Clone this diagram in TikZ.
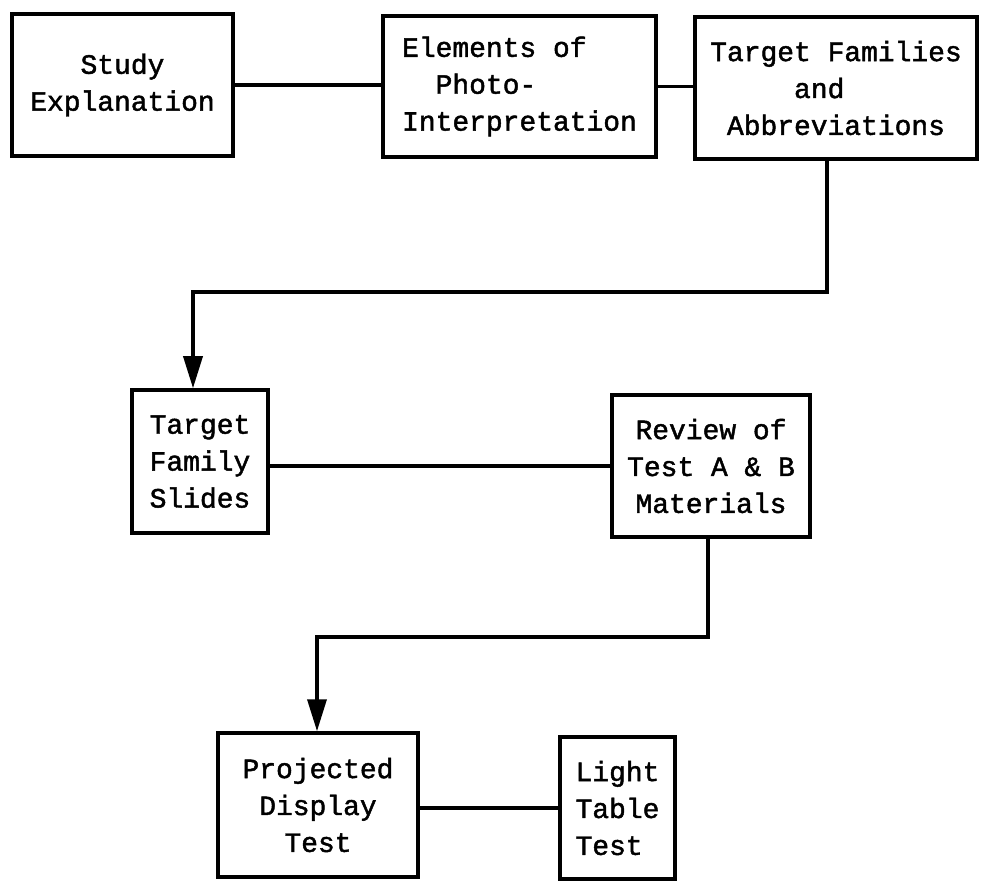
\documentclass[tikz,border=0pt]{standalone}
\usepackage{fontspec}
\setmonofont{Liberation Mono}[BoldFont=Liberation Mono, BoldFeatures={FakeBold=1.6}]
\usepackage{tikz}
\usetikzlibrary{arrows.meta, positioning}
\tikzset{
    box/.style={ % every box of the plan
        draw,
        rectangle,
        line width=2pt,
        inner sep=0pt,
        align=center,
        font=\ttfamily\bfseries\fontsize{15.9}{21}\selectfont
    },
    link/.style={ % plain line between two boxes
        draw,
        line width=2pt
    },
    flow/.style={ % line with a filled head
        link,
        -{Triangle[length=6.4mm,width=3.8mm]}
    }
}

\begin{document}
\begin{tikzpicture}[x=0.2mm, y=-0.2mm]
        \useasboundingbox (0,0) rectangle (988,881);
        % oben
        \node[box, minimum width=4.42cm, minimum height=2.84cm] (study) at (122.5,85)  {Study\\Explanation};
        \node[box, minimum width=5.46cm, minimum height=2.82cm, align=left] (elem) at (519.5,86.5)
                {Elements of\\\hphantom{xx}Photo-\\Interpretation};
        \node[box, minimum width=5.64cm, minimum height=2.84cm, align=left] (fam) at (836,88)
                {Target Families\\\hphantom{xxxxx}and\\\hphantom{x}Abbreviations};
        % mitte
        \node[box, minimum width=2.72cm, minimum height=2.86cm] (slides) at (200,461.5) {Target\\Family\\Slides};
        \node[box, minimum width=3.96cm, minimum height=2.84cm] (review) at (711,466)   {Review of\\Test A \& B\\Materials};
        % unten
        \node[box, minimum width=4.00cm, minimum height=2.88cm] (proj)  at (318,805)    {Projected\\Display\\Test};
        \node[box, minimum width=2.30cm, minimum height=2.84cm, align=left] (light) at (617.5,808) {Light\\Table\\Test};

        % knicke
        \coordinate (k1) at (193,292);
        \coordinate (k2) at (317,637);

        \draw[link]
                (study.east) -- (study.east -| elem.west)
                (elem.east)  -- (elem.east -| fam.west)
                (slides.east |- review.west) -- (review.west)
                (proj.east |- light.west)    -- (light.west)
        ;
        \draw[flow] ([xshift=-1.8mm]fam.south)    |- (k1) -- (k1 |- slides.north);
        \draw[flow] ([xshift=-0.6mm]review.south) |- (k2) -- (k2 |- proj.north);
    \end{tikzpicture}
\end{document}
